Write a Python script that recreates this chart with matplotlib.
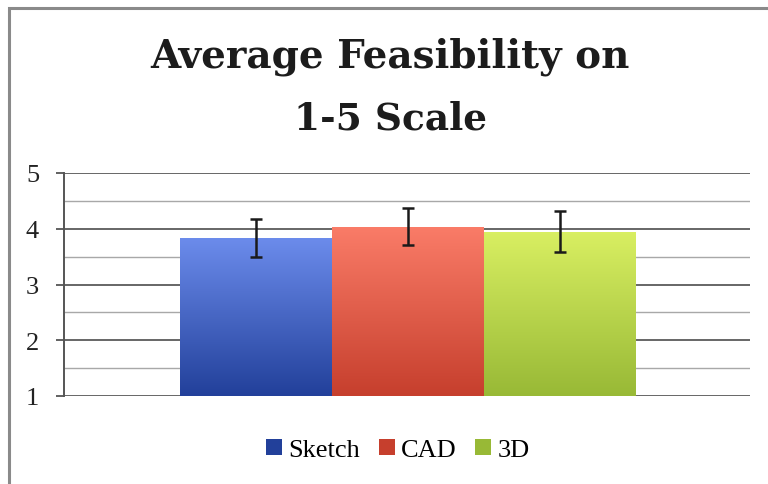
"""
plot.py
=======

Gráfico de barras: factibilidad promedio (escala 1-5) por tipo de prototipo.

Output:
- out.png
"""

from __future__ import annotations

import numpy as np
import matplotlib
matplotlib.use("Agg")
import matplotlib.pyplot as plt
from matplotlib.colors import LinearSegmentedColormap
from matplotlib.patches import Rectangle

#==============
#Datos
#==============

CATEGORIES = ["Sketch", "CAD", "3D"]
MEANS = [3.84, 4.04, 3.95]
ERRORS = [0.34, 0.33, 0.37]

Y_TICKS = [1, 2, 3, 4, 5]
TITLE_LINES = ["Average Feasibility on", "1-5 Scale"]

# colores (arriba, abajo) del degradado de cada barra
GRADIENTS = [
    ("#6c8cec", "#22409a"),
    ("#fa7c68", "#c63f2d"),
    ("#d9ef62", "#98b936"),
]

SERIF = ["Liberation Serif", "DejaVu Serif"]


def gradient_bar(ax, bar, top: str, bottom: str) -> None:
    """Rellena una barra con un degradado vertical (recortado a la barra)."""
    x0, y0 = bar.get_x(), bar.get_y()
    w, h = bar.get_width(), bar.get_height()
    cmap = LinearSegmentedColormap.from_list("g", [bottom, top])
    grad = np.linspace(0, 1, 256).reshape(-1, 1)
    im = ax.imshow(grad, cmap=cmap, origin="lower", aspect="auto",
                   extent=(x0, x0 + w, y0, y0 + h), zorder=2)
    im.set_clip_path(bar)
    bar.set_facecolor("none")


def main() -> None:
    fig = plt.figure(figsize=(7.68, 4.85), dpi=100)
    ax = fig.add_axes([64 / 768, 1 - 397 / 485, 686 / 768, 223 / 485])

    x = np.arange(len(CATEGORIES))
    bars = ax.bar(x, [m - 1 for m in MEANS], bottom=1, width=1.0,
                  edgecolor="none", zorder=2)
    for bar, (top, bottom) in zip(bars, GRADIENTS):
        gradient_bar(ax, bar, top, bottom)

    ax.errorbar(x, MEANS, yerr=ERRORS, fmt="none", ecolor="#1a1a1a",
                elinewidth=1.8, capsize=4.5, capthick=1.8, zorder=4)

    ax.set_xlim(-1.265, 3.25)
    ax.set_ylim(1, 5)
    ax.set_yticks(Y_TICKS)
    ax.set_yticks(np.arange(1.5, 5, 1.0), minor=True)
    ax.set_yticklabels([str(t) for t in Y_TICKS], family=SERIF, fontsize=19,
                       color="#222222")
    ax.tick_params(axis="y", which="major", direction="out", length=6,
                   width=1.3, color="#555555", pad=12)
    ax.tick_params(axis="y", which="minor", length=0)
    ax.set_xticks([])

    ax.grid(axis="y", which="major", color="#666666", lw=1.4, zorder=0)
    ax.grid(axis="y", which="minor", color="#a8a8a8", lw=1.0, zorder=0)
    for side in ("top", "right", "bottom"):
        ax.spines[side].set_visible(False)
    ax.spines["left"].set_color("#555555")
    ax.spines["left"].set_linewidth(1.4)

    # título en dos líneas (líneas base medidas en la referencia)
    for line, base_y, size in zip(TITLE_LINES, (68, 130), (28, 27)):
        fig.text(390 / 768, 1 - base_y / 485, line, ha="center",
                 va="baseline", family=["DejaVu Serif"], fontweight="bold",
                 fontsize=size, color="#1c1c1c")

    handles = [Rectangle((0, 0), 1, 1, facecolor=bottom, edgecolor="none")
               for top, bottom in GRADIENTS]
    fig.legend(handles, CATEGORIES, loc="center", ncol=3,
               bbox_to_anchor=(398 / 768, 1 - 451 / 485), frameon=False,
               prop={"family": SERIF, "size": 19}, handlelength=0.6,
               handleheight=0.6, handletextpad=0.25, columnspacing=0.7)

    # marco exterior del gráfico
    fig.patches.append(Rectangle((9 / 768, -0.05), 1.1, 1 - 9 / 485 + 0.05,
                                 transform=fig.transFigure, fill=False,
                                 edgecolor="#8a8a8a", lw=2.2))

    fig.savefig("out.png", dpi=100, facecolor="white")
    plt.close(fig)


if __name__ == "__main__":
    main()
